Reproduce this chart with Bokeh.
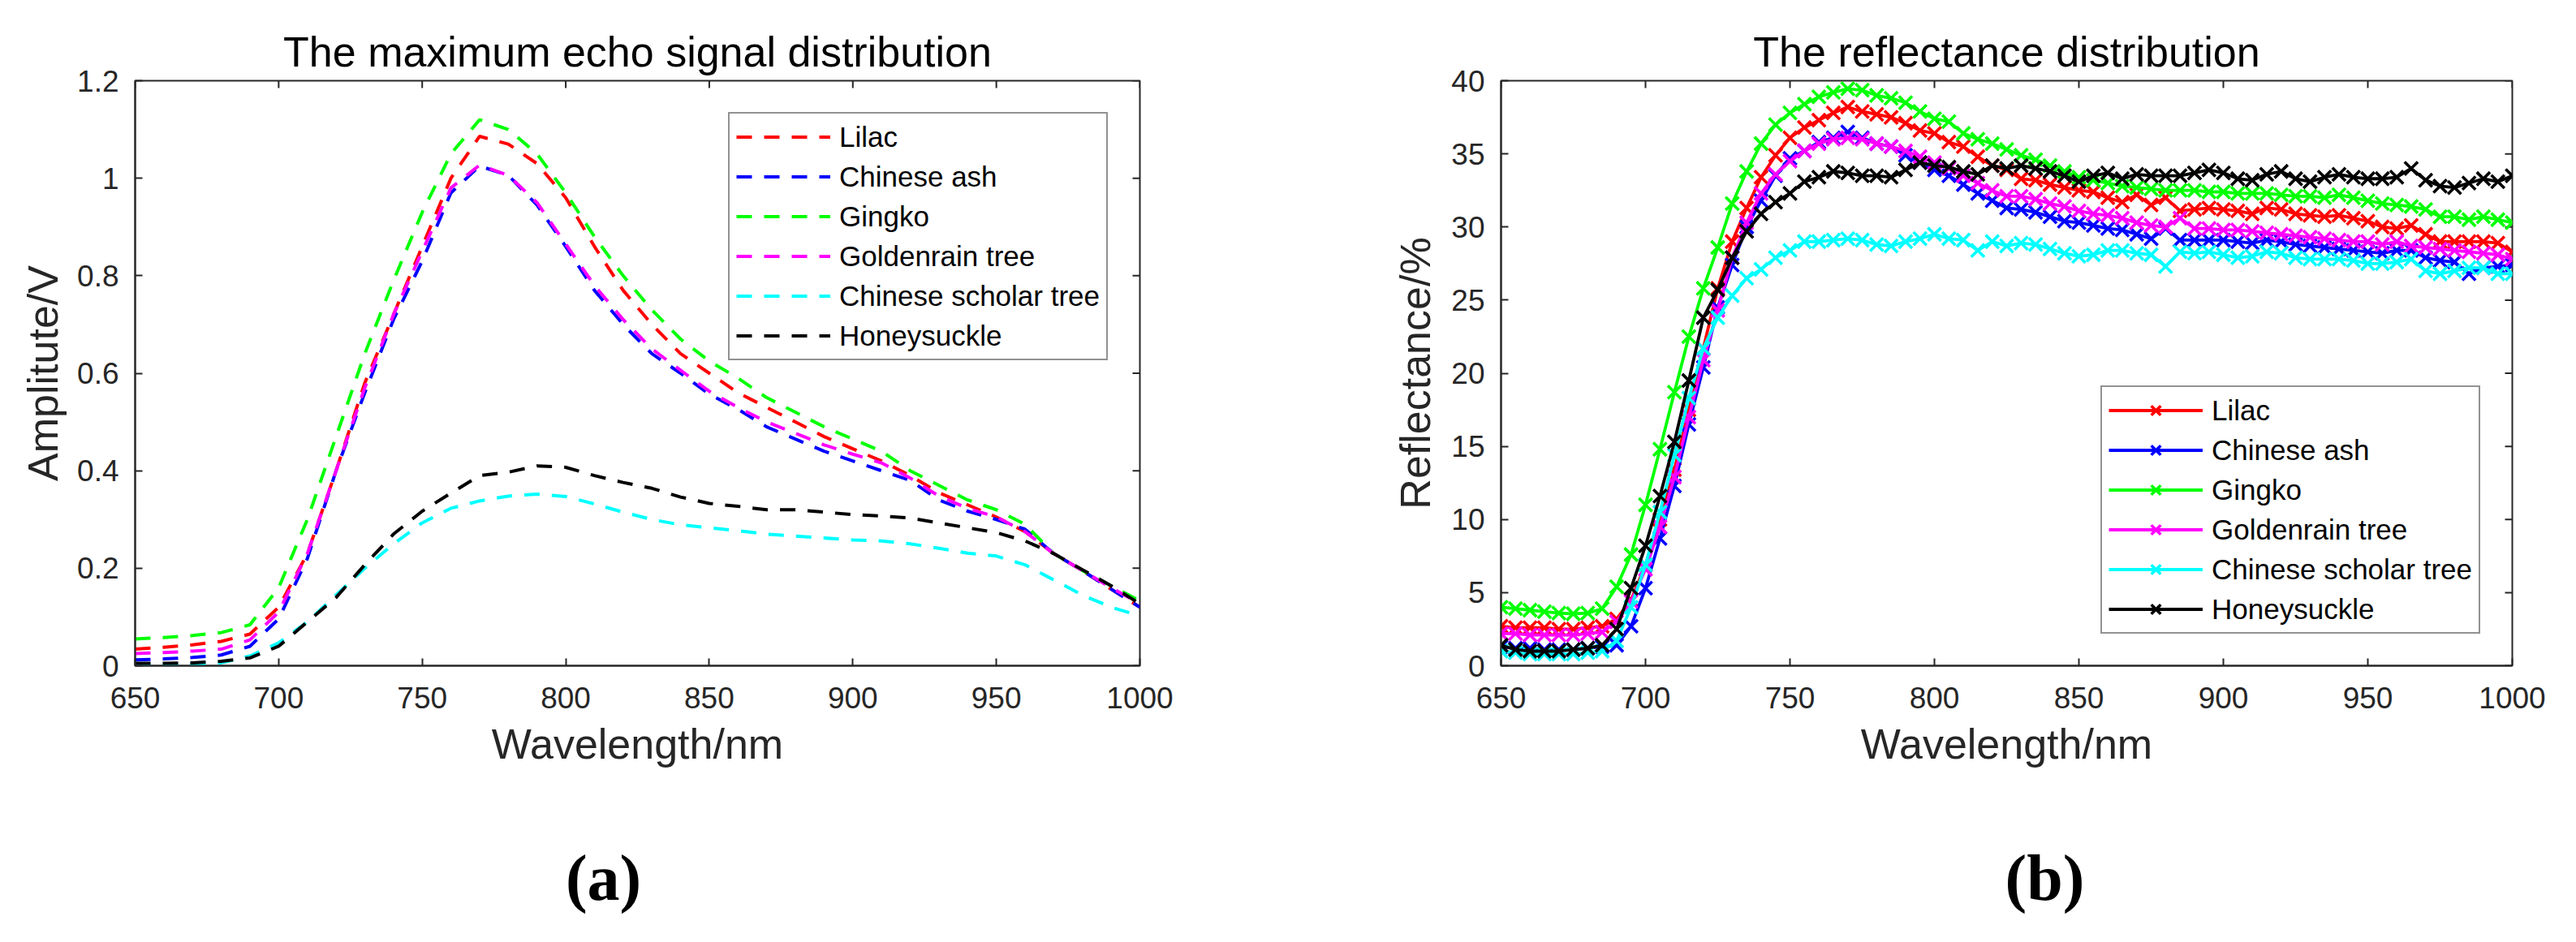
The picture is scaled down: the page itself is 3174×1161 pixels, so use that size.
import math
from bokeh.plotting import figure
from bokeh.models import Range1d, FixedTicker, Label, Legend, LegendItem
from bokeh.layouts import gridplot
from bokeh.embed import file_html
from bokeh.resources import INLINE

# ---------------- data ----------------
x_ticks = [650, 700, 750, 800, 850, 900, 950, 1000]
x_tick_labels = ["650", "700", "750", "800", "850", "900", "950", "1000"]
y_ticks_a = [0, 0.2, 0.4, 0.6, 0.8, 1.0, 1.2]
y_tick_labels_a = ["0", "0.2", "0.4", "0.6", "0.8", "1", "1.2"]
y_ticks_b = [0, 5, 10, 15, 20, 25, 30, 35, 40]
y_tick_labels_b = ["0", "5", "10", "15", "20", "25", "30", "35", "40"]

species = ["Lilac", "Chinese ash", "Gingko", "Goldenrain tree", "Chinese scholar tree", "Honeysuckle"]

# (a) maximum echo signal, 10 nm steps
wl_a = [650, 660, 670, 680, 690, 700, 710, 720, 730, 740, 750, 760, 770, 780, 790, 800, 810, 820,
        830, 840, 850, 860, 870, 880, 890, 900, 910, 920, 930, 940, 950, 960, 970, 980, 990, 1000]
lilac_a = [0.034, 0.038, 0.043, 0.050, 0.065, 0.12, 0.23, 0.40, 0.58, 0.72, 0.86, 1.00, 1.086, 1.07,
           1.03, 0.96, 0.86, 0.77, 0.70, 0.64, 0.60, 0.56, 0.53, 0.50, 0.47, 0.445, 0.42, 0.39,
           0.355, 0.33, 0.305, 0.275, 0.23, 0.195, 0.157, 0.12]
ash_a = [0.012, 0.014, 0.017, 0.022, 0.04, 0.096, 0.22, 0.40, 0.56, 0.71, 0.83, 0.97, 1.025, 1.006,
         0.945, 0.86, 0.77, 0.70, 0.64, 0.60, 0.557, 0.526, 0.49, 0.465, 0.44, 0.42, 0.40, 0.38,
         0.34, 0.317, 0.30, 0.28, 0.23, 0.195, 0.157, 0.12]
gingko_a = [0.055, 0.058, 0.062, 0.068, 0.084, 0.16, 0.30, 0.47, 0.64, 0.79, 0.93, 1.05, 1.12, 1.10,
            1.05, 0.97, 0.88, 0.80, 0.73, 0.67, 0.625, 0.59, 0.55, 0.52, 0.49, 0.465, 0.44, 0.40,
            0.37, 0.34, 0.32, 0.29, 0.23, 0.195, 0.164, 0.133]
golden_a = [0.025, 0.027, 0.03, 0.034, 0.053, 0.11, 0.23, 0.40, 0.57, 0.72, 0.85, 0.98, 1.027, 1.006,
            0.95, 0.865, 0.78, 0.71, 0.65, 0.606, 0.563, 0.53, 0.50, 0.477, 0.453, 0.434, 0.416,
            0.385, 0.348, 0.323, 0.305, 0.275, 0.23, 0.195, 0.16, 0.127]
scholar_a = [0.002, 0.002, 0.003, 0.006, 0.02, 0.047, 0.09, 0.145, 0.20, 0.25, 0.293, 0.323, 0.338,
             0.348, 0.352, 0.347, 0.332, 0.315, 0.30, 0.289, 0.283, 0.277, 0.27, 0.266, 0.262, 0.258,
             0.256, 0.25, 0.241, 0.231, 0.225, 0.207, 0.176, 0.145, 0.12, 0.102]
honey_a = [0.005, 0.005, 0.006, 0.009, 0.016, 0.04, 0.09, 0.14, 0.207, 0.27, 0.317, 0.354, 0.39,
           0.397, 0.41, 0.407, 0.39, 0.376, 0.364, 0.346, 0.333, 0.327, 0.32, 0.32, 0.315, 0.31,
           0.307, 0.303, 0.293, 0.283, 0.273, 0.256, 0.23, 0.197, 0.164, 0.127]

# (b) reflectance, 5 nm steps
wl_b = [650, 655, 660, 665, 670, 675, 680, 685, 690, 695,
        700, 705, 710, 715, 720, 725, 730, 735, 740, 745,
        750, 755, 760, 765, 770, 775, 780, 785, 790, 795,
        800, 805, 810, 815, 820, 825, 830, 835, 840, 845,
        850, 855, 860, 865, 870, 875, 880, 885, 890, 895,
        900, 905, 910, 915, 920, 925, 930, 935, 940, 945,
        950, 955, 960, 965, 970, 975, 980, 985, 990, 995, 1000]
lilac_b = [2.7, 2.6, 2.6, 2.6, 2.5, 2.5, 2.6, 2.7, 3.2, 4.5,
           6.9, 10.0, 13.4, 17.5, 21.7, 25.8, 29.0, 31.3, 33.4, 34.9,
           36.1, 36.8, 37.3, 37.8, 38.2, 37.9, 37.7, 37.5, 37.1, 36.6,
           36.4, 35.8, 35.5, 34.8, 34.2, 33.9, 33.3, 33.2, 32.9, 32.7,
           32.5, 32.4, 32.0, 31.7, 32.2, 31.5, 32.0, 31.1, 31.2, 31.3,
           31.2, 31.1, 30.9, 31.3, 31.2, 30.9, 30.8, 30.7, 30.8, 30.6,
           30.4, 30.0, 29.9, 30.1, 29.5, 29.0, 29.0, 29.0, 29.0, 28.9, 28.3]
ash_b = [1.3, 1.2, 1.2, 1.1, 1.1, 1.1, 1.2, 1.3, 1.4, 2.7,
         5.3, 8.7, 12.3, 16.5, 20.4, 24.5, 27.4, 30.0, 31.8, 33.5,
         34.7, 35.2, 35.8, 36.1, 36.5, 36.1, 35.7, 35.5, 34.9, 34.4,
         33.9, 33.5, 32.9, 32.3, 31.8, 31.3, 31.2, 31.0, 30.7, 30.4,
         30.3, 30.1, 29.9, 29.8, 29.5, 29.2, 29.9, 29.1, 29.1, 29.1,
         29.1, 29.0, 28.9, 29.1, 29.0, 28.8, 28.7, 28.6, 28.5, 28.4,
         28.3, 28.2, 28.4, 28.4, 27.9, 27.7, 27.6, 26.8, 27.2, 27.3, 27.4]
gingko_b = [4.0, 3.9, 3.8, 3.7, 3.6, 3.55, 3.6, 3.9, 5.4, 7.6,
            11.0, 14.8, 18.7, 22.5, 25.8, 28.6, 31.6, 33.8, 35.7, 37.0,
            37.8, 38.4, 38.9, 39.2, 39.45, 39.35, 39.0, 38.8, 38.5, 37.9,
            37.4, 37.2, 36.4, 36.0, 35.7, 35.3, 34.9, 34.6, 34.2, 33.8,
            33.4, 33.2, 33.0, 32.8, 32.7, 32.6, 32.5, 32.5, 32.5, 32.4,
            32.4, 32.3, 32.3, 32.3, 32.2, 32.1, 32.1, 32.0, 32.2, 32.0,
            31.8, 31.6, 31.5, 31.4, 31.2, 30.7, 30.7, 30.5, 30.7, 30.5, 30.3]
golden_b = [2.2, 2.2, 2.1, 2.1, 2.1, 2.1, 2.2, 2.3, 3.0, 4.4,
            6.6, 9.5, 12.9, 17.0, 20.9, 24.3, 27.9, 30.3, 32.3, 33.6,
            34.5, 35.2, 35.7, 36.0, 36.1, 36.0, 35.7, 35.5, 35.2, 34.8,
            34.4, 34.0, 33.5, 33.0, 32.5, 32.1, 32.1, 31.9, 31.6, 31.4,
            31.1, 30.9, 30.8, 30.6, 30.3, 30.1, 30.0, 30.6, 29.9, 29.9,
            29.8, 29.8, 29.7, 29.6, 29.5, 29.4, 29.3, 29.2, 29.1, 29.0,
            29.0, 28.8, 29.0, 28.7, 28.6, 28.5, 28.4, 28.3, 28.2, 28.1, 27.8]
scholar_b = [1.0, 0.9, 0.8, 0.8, 0.8, 0.8, 0.9, 1.0, 1.7, 4.0,
             6.9, 10.5, 14.4, 18.3, 21.7, 23.8, 25.3, 26.5, 27.1, 27.9,
             28.4, 29.0, 29.0, 29.1, 29.2, 29.1, 28.8, 28.7, 29.0, 29.2,
             29.5, 29.2, 29.1, 28.4, 29.0, 28.7, 28.9, 28.8, 28.5, 28.2,
             28.0, 28.1, 28.4, 28.4, 28.2, 28.1, 27.3, 28.3, 28.2, 28.3,
             28.1, 27.9, 28.0, 28.3, 28.2, 27.9, 27.8, 27.8, 27.8, 27.7,
             27.5, 27.5, 27.6, 27.8, 27.0, 26.8, 27.0, 27.2, 27.2, 26.8, 26.8]
honey_b = [1.4, 1.1, 1.0, 1.0, 1.0, 1.1, 1.2, 1.4, 2.5, 5.3,
           8.2, 11.6, 15.3, 19.5, 23.8, 25.7, 27.9, 29.7, 30.9, 31.7,
           32.3, 33.1, 33.4, 33.8, 33.7, 33.5, 33.5, 33.4, 33.9, 34.4,
           34.2, 34.1, 33.8, 33.6, 34.2, 34.0, 34.2, 34.0, 33.8, 33.5,
           33.1, 33.5, 33.7, 33.3, 33.6, 33.5, 33.5, 33.5, 33.7, 33.9,
           33.7, 33.3, 33.2, 33.6, 33.8, 33.3, 33.1, 33.4, 33.6, 33.4,
           33.3, 33.3, 33.4, 34.0, 33.2, 32.8, 32.7, 33.0, 33.3, 33.1, 33.5]

colors = ["#ff0000", "#0000ff", "#00ff00", "#ff00ff", "#00ffff", "#000000"]
series_a = [lilac_a, ash_a, gingko_a, golden_a, scholar_a, honey_a]
series_b = [lilac_b, ash_b, gingko_b, golden_b, scholar_b, honey_b]
panel_tags = ["(a)", "(b)"]

FONT = "Liberation Sans"
AX = "#262626"
W = 1579
H_TOP = 1025
H_TAG = 120


def style_axes(p, yticks, ylabels, ylabel, ylab_standoff):
    p.xgrid.visible = False
    p.ygrid.visible = False
    p.outline_line_color = AX
    p.outline_line_width = 2
    p.title.text_font = FONT
    p.title.text_font_size = "52px"
    p.title.text_font_style = "normal"
    p.title.text_color = "#000000"
    p.title.align = "center"
    p.title.standoff = 14

    xa = p.xaxis[0]
    xa.ticker = FixedTicker(ticks=x_ticks)
    xa.major_label_overrides = dict(zip(x_ticks, x_tick_labels))
    xa.axis_label = "Wavelength/nm"
    xa.axis_label_standoff = 12
    xa.major_label_standoff = 26
    ya = p.yaxis[0]
    ya.ticker = FixedTicker(ticks=yticks)
    ya.major_label_overrides = dict(zip(yticks, ylabels))
    ya.axis_label = ylabel
    ya.axis_label_standoff = ylab_standoff
    ya.major_label_standoff = 20

    for a in (xa, ya):
        a.axis_label_text_font = FONT
        a.axis_label_text_font_size = "52px"
        a.axis_label_text_font_style = "normal"
        a.axis_label_text_color = AX
        a.major_label_text_font = FONT
        a.major_label_text_font_size = "37px"
        a.major_label_text_color = AX
        a.major_tick_in = 9
        a.major_tick_out = 0
        a.minor_tick_in = 0
        a.minor_tick_out = 0
        a.axis_line_width = 2
        a.axis_line_color = AX
        a.major_tick_line_width = 2
        a.major_tick_line_color = AX

    # mirrored inward ticks on the top and right edges (half of each dash is clipped by the frame)
    xr, yr = p.x_range, p.y_range
    p.scatter(x_ticks, [yr.end] * len(x_ticks), marker="dash", angle=math.pi / 2, size=18,
              line_color=AX, line_width=2)
    p.scatter([xr.end] * len(yticks), yticks, marker="dash", size=18, line_color=AX, line_width=2)


def style_legend(leg, loc):
    leg.location = loc
    leg.margin = 39
    leg.border_line_color = AX
    leg.border_line_width = 2
    leg.background_fill_color = "white"
    leg.background_fill_alpha = 1.0
    leg.label_text_font = FONT
    leg.label_text_font_size = "35px"
    leg.label_text_color = "#000000"
    leg.glyph_width = 116
    leg.glyph_height = 41
    leg.label_height = 41
    leg.spacing = 8
    leg.padding = 8
    leg.label_standoff = 11


# ---------------- (a) ----------------
pa = figure(width=W, height=H_TOP, min_border_left=166, min_border_right=175,
            min_border_top=98, min_border_bottom=H_TOP - 98 - 722,
            x_range=Range1d(650, 1000), y_range=Range1d(0, 1.2),
            title="The maximum echo signal distribution",
            output_backend="svg", toolbar_location=None)
style_axes(pa, y_ticks_a, y_tick_labels_a, "Amplitute/V", 10)
items_a = []
for name, col, ys in zip(species, colors, series_a):
    r = pa.line(wl_a, ys, line_color=col, line_width=4, line_dash="19 15")
    items_a.append(LegendItem(label=name, renderers=[r]))
leg_a = Legend(items=items_a)
style_legend(leg_a, "top_right")
pa.add_layout(leg_a)

# ---------------- (b) ----------------
pb = figure(width=W, height=H_TOP, min_border_left=270, min_border_right=63,
            min_border_top=99, min_border_bottom=H_TOP - 99 - 723,
            x_range=Range1d(650, 1000), y_range=Range1d(0, 40),
            title="The reflectance distribution",
            output_backend="svg", toolbar_location=None)
style_axes(pb, y_ticks_b, y_tick_labels_b, "Reflectance/%", 12)
items_b = []
for name, col, ys in zip(species, colors, series_b):
    rl = pb.line(wl_b, ys, line_color=col, line_width=3.8)
    rs = pb.scatter(wl_b, ys, marker="x", size=23, line_color=col, line_width=3.6)
    items_b.append(LegendItem(label=name, renderers=[rl, rs]))
leg_b = Legend(items=items_b)
style_legend(leg_b, "bottom_right")
pb.add_layout(leg_b)


# ---------------- panel tags (a), (b) ----------------
def tag_fig(tag, cx):
    t = figure(width=W, height=H_TAG, min_border=0, x_range=Range1d(0, W), y_range=Range1d(0, H_TAG),
               output_backend="svg", toolbar_location=None)
    t.axis.visible = False
    t.grid.visible = False
    t.outline_line_color = None
    t.add_layout(Label(x=cx, y=64, text=tag, text_font="Liberation Serif", text_font_size="80px",
                       text_font_style="bold", text_align="center", text_baseline="middle",
                       text_color="#000000"))
    return t


ta = tag_fig(panel_tags[0], 736)
tb = tag_fig(panel_tags[1], 849)

layout = gridplot([[pa, pb], [ta, tb]], toolbar_location=None)
open("out.html", "w").write(file_html(layout, INLINE))
